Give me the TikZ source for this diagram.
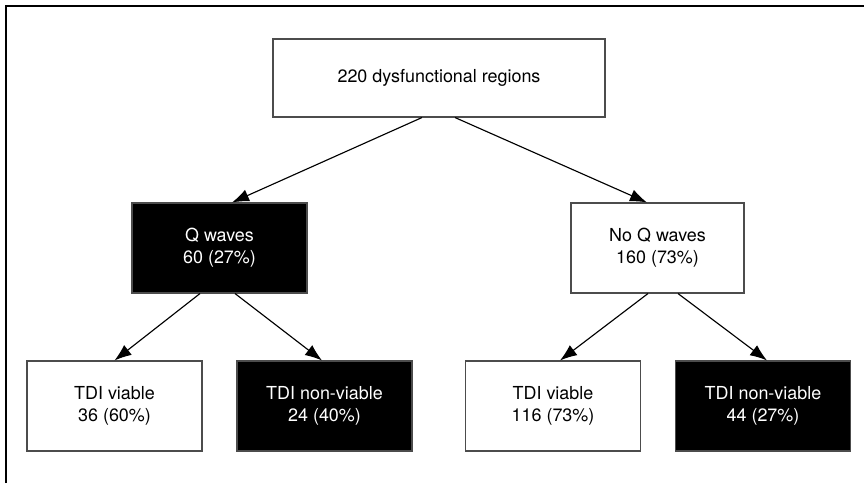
\documentclass[tikz,border=0pt]{standalone}
\usepackage{fontspec}
\setmainfont{TeX Gyre Heros}
\usetikzlibrary{arrows.meta,positioning}

\begin{document}
\begin{tikzpicture}[>={Latex[length=0.34cm,width=0.25cm]},
    box/.style={draw=black!70,line width=0.6pt,fill=white,
      minimum width=3.5cm,minimum height=1.8cm,align=center,
      font=\fontsize{10.2}{12.5}\selectfont},
    darkbox/.style={box,fill=black,text=white}]
  \useasboundingbox (0,0) rectangle (17.28,-9.66);
  % frame
  \draw[line width=1.3pt] (0.12,-9.66) -- (0.12,-0.12) -- (17.28,-0.12);
  \node[box,minimum width=6.64cm,minimum height=1.56cm]
        (total) at (8.78,-1.56) {220 dysfunctional regions};
  \node[darkbox] (qw) at (4.39,-4.96) {Q waves\\60 (27\%)};
  \node[box,minimum width=3.46cm] (noqw) at (13.15,-4.96) {No Q waves\\160 (73\%)};
  \node[box] (qviab) at (2.29,-8.12) {TDI viable\\36 (60\%)};
  \node[darkbox] (qnonv) at (6.49,-8.12) {TDI non-viable\\24 (40\%)};
  \node[box] (nviab) at (11.06,-8.12) {TDI viable\\116 (73\%)};
  \node[darkbox] (nnonv) at (15.26,-8.12) {TDI non-viable\\44 (27\%)};
  \draw[->,line width=0.65pt] ([xshift=-0.34cm]total.south)--([xshift=0.25cm]qw.north);
  \draw[->,line width=0.65pt] ([xshift=0.32cm]total.south)--([xshift=-0.21cm]noqw.north);
  \draw[->,line width=0.65pt] ([xshift=-0.39cm]qw.south)--(qviab.north);
  \draw[->,line width=0.65pt] ([xshift=0.31cm]qw.south)--([xshift=-0.05cm]qnonv.north);
  \draw[->,line width=0.65pt] ([xshift=-0.19cm]noqw.south)--([xshift=0.14cm]nviab.north);
  \draw[->,line width=0.65pt] ([xshift=0.41cm]noqw.south)--([xshift=0.08cm]nnonv.north);
\end{tikzpicture}
\end{document}
